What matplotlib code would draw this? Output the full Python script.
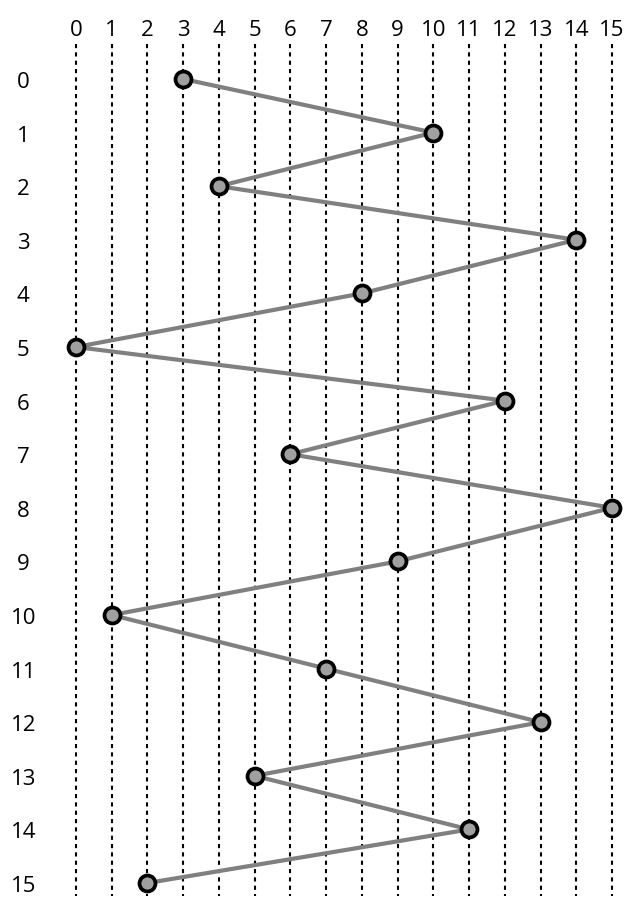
import matplotlib
matplotlib.use('Agg')
import matplotlib.pyplot as plt

rows = list(range(16))
cols = list(range(16))
# column chosen in each row
picks = [3, 10, 4, 14, 8, 0, 12, 6, 15, 9, 1, 7, 13, 5, 11, 2]

plt.rcParams['font.family'] = ['Open Sans', 'DejaVu Sans']

W, H = 636, 920
fig = plt.figure(figsize=(W / 100, H / 100), dpi=100)
left, right, top, bottom = 76, 612, 80, 884
ax = fig.add_axes([left / W, 1 - bottom / H, (right - left) / W, (bottom - top) / H])
ax.set_xlim(0, 15)
ax.set_ylim(15, 0)
for s in ax.spines.values():
    s.set_visible(False)

ax.vlines(cols, -0.65, 15.24, colors='black', linestyles=(0, (2, 2)), linewidth=1.5, clip_on=False)
ax.plot(picks, rows, color='#808080', linewidth=3, marker='o', markersize=11.5,
        markerfacecolor='#a0a0a0', markeredgecolor='black', markeredgewidth=2.7,
        clip_on=False, zorder=3)

ax.xaxis.tick_top()
ax.set_xticks(cols)
ax.set_xticklabels([str(c) for c in cols], fontsize=16)
ax.set_yticks(rows)
ax.set_yticklabels([str(r) for r in rows], fontsize=16, ha='center')
ax.tick_params(axis='x', length=0, pad=28)
ax.tick_params(axis='y', length=0, pad=38)

fig.savefig('out.png', dpi=100)
